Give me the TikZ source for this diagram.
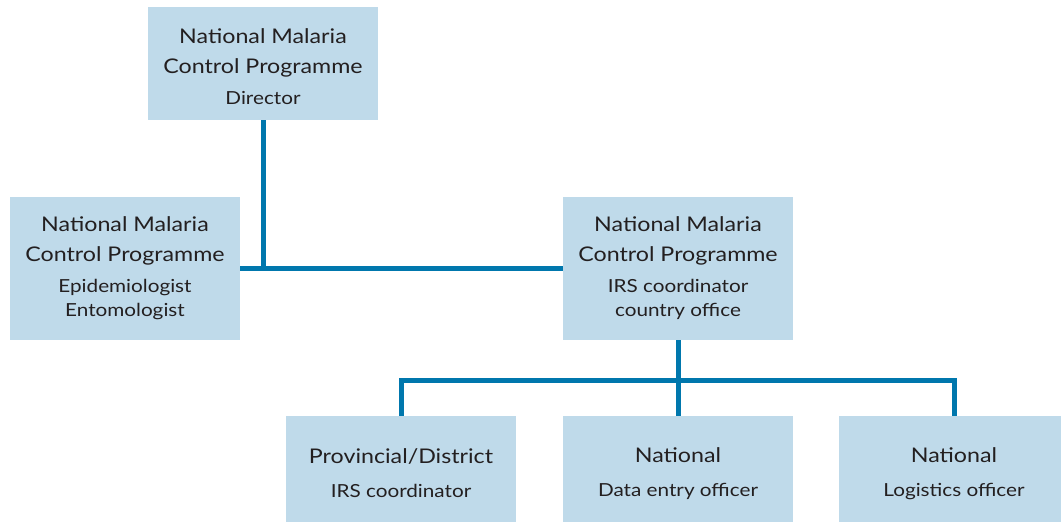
\documentclass[tikz,border=0pt]{standalone}
\usepackage{fontspec}
\setmainfont{Lato}[FakeStretch=1.15]
\definecolor{boxfill}{HTML}{BFDAEA}
\definecolor{linec}{HTML}{0077AD}
\definecolor{txt}{HTML}{231F20}
\newcommand{\bigtxt}{\fontsize{20.2}{30}\selectfont}
\newcommand{\smtxt}{\fontsize{18}{24}\selectfont}
\newcommand{\topstrut}[1]{\rule{0pt}{#1}}
\begin{document}
\begin{tikzpicture}[x=1pt,y=-1pt,
  orgbox/.style={fill=boxfill, draw=none, minimum width=230pt, inner sep=0pt, align=center, text=txt, font=\bigtxt},
  conn/.style={draw=linec, line width=5pt}]
\useasboundingbox (0,0) rectangle (1061,524);
\node[orgbox, minimum height=113pt] (dir) at (263,63.5) {\topstrut{22pt}National Malaria\\Control Programme\\[1pt]{\smtxt Director}};
\node[orgbox, minimum height=143pt] (epi) at (125,268.5) {National Malaria\\Control Programme\\[1pt]{\smtxt Epidemiologist}\\[-6pt]{\smtxt Entomologist}};
\node[orgbox, minimum height=143pt] (irs) at (678,268.5) {National Malaria\\Control Programme\\[1pt]{\smtxt IRS coordinator}\\[-6pt]{\smtxt country office}};
\node[orgbox, minimum height=106pt] (prov) at (401,469) {\topstrut{24pt}Provincial/District\\[4pt]{\smtxt IRS coordinator}};
\node[orgbox, minimum height=106pt] (data) at (678,469) {\topstrut{24pt}National\\[4pt]{\smtxt Data entry officer}};
\node[orgbox, minimum height=106pt] (log) at (954,469) {\topstrut{24pt}National\\[4pt]{\smtxt Logistics officer}};
\coordinate (bar) at (678,380);
\draw[conn] (epi.east) -- (irs.west);
\draw[conn] (dir.south) -- (dir.south |- epi.east);
\draw[conn] (irs.south) -- (data.north);
\draw[conn] (prov.north) -- (prov.north |- bar) -| (log.north);
\end{tikzpicture}
\end{document}
